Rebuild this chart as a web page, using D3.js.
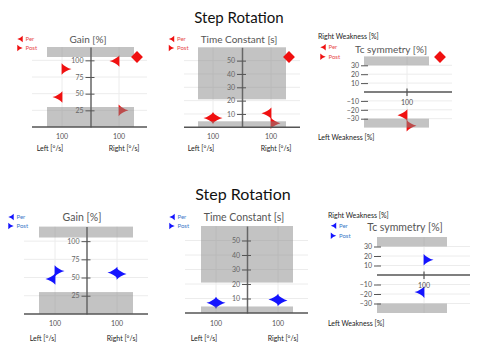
<!DOCTYPE html>
<html><head><meta charset="utf-8">
<script src="https://cdn.jsdelivr.net/npm/d3@7"></script>
<style>body{margin:0;background:#fff}svg{display:block;font-family:Lato,"Noto Sans",sans-serif}</style>
</head><body><svg id="c" width="479" height="356"></svg>
<script>
// ---------- data ----------
const categories = ["Left", "Right"];
const unitLabels = ["Left [°/s]", "Right [°/s]"];
const symCategory = ["100"];
const xTickLabel = "100";
const chartTitle = "Step Rotation";
const panelTitles = ["Gain [%]", "Time Constant [s]", "Tc symmetry [%]"];
const seriesNames = ["Per", "Post"];
const weaknessLabels = ["Right Weakness [%]", "Left Weakness [%]"];

const gainDomain = [0, 120], tcDomain = [0, 60], symDomain = [-40, 40];
const gainTicks = [25, 50, 75, 100];
const tcTicks = [10, 20, 30, 40, 50];
const symTicks = [-30, -20, -10, 10, 20, 30];
const gainNorm = [[0, 30], [105, 120]];
const tcNorm = [[0, 4.5], [21, 60]];
const symNorm = [[-40, -30], [30, 40]];

// set 1 (red)
const gainPer1 = [45, 99], gainPost1 = [87, 25];
const tcPer1 = [7, 10.5], tcPost1 = [7, 3];
const symPer1 = [-26], symPost1 = [-38];
const flags1 = [105, 52.7, 39.3];
// set 2 (blue)
const gainPer2 = [48, 57], gainPost2 = [59, 55];
const tcPer2 = [7, 9.3], tcPost2 = [7, 8.7];
const symPer2 = [-18], symPost2 = [16];
const flags2 = [];

// ---------- layout ----------
const svg = d3.select("#c");
const rows = [
  { color: "#f01010", lcolor: "#e84a4a", title: { x: 239, y: 23, s: 15 }, ts: 10,
    gain: { cx: [62, 119], yr: [127, 47], ax: 90.5, band: [47, 134], line: [32, 147], t: [88, 43], lg: [25.5, 39, 48], xl: 138.5, ul: 151, fx: 137 },
    tc:   { cx: [213, 271], yr: [127.3, 47.3], ax: 242, band: [198, 286], line: [184, 300], t: [239, 43], lg: [177, 39, 48], xl: 138.5, ul: 151, fx: 289 },
    sym:  { cx: 407, yr: [127.6, 56.4], band: [364, 429], line: [364, 452], t: [391, 52.5], lg: [328.5, 47.3, 56.7], wx: 318, wy: [38.5, 139.5], fx: 440 },
    data: { gain: [gainPer1, gainPost1], tc: [tcPer1, tcPost1], sym: [symPer1, symPost1], flags: flags1 } },
  { color: "#1414ff", lcolor: "#3a78c8", title: { x: 243, y: 200, s: 16 }, ts: 10.5,
    gain: { cx: [55, 117], yr: [313.9, 226.6], ax: 86.5, band: [39, 133], line: [24, 148], t: [82, 221], lg: [16.5, 217, 226], xl: 326, ul: 341 },
    tc:   { cx: [216, 278], yr: [313, 226], ax: 247, band: [201, 293], line: [185, 308], t: [244, 221], lg: [177.5, 217, 226], xl: 326, ul: 341 },
    sym:  { cx: 424, yr: [313, 237], band: [377, 447], line: [377, 470], t: [405, 231], lg: [339, 225.7, 235.7], wx: 328, wy: [217.5, 325.5] },
    data: { gain: [gainPer2, gainPost2], tc: [tcPer2, tcPost2], sym: [symPer2, symPost2], flags: flags2 } }
];

function perPath(s) {
  return `M${-9.5*s},0 Q${-3.5*s},${-1.5*s} ${0.4*s},${-5.8*s} L${0.4*s},${5.8*s} Q${-3.5*s},${1.5*s} ${-9.5*s},0Z`;
}
function postPath(s) {
  return `M${9.5*s},0 Q${3.5*s},${-1.5*s} ${-0.4*s},${-5.8*s} L${-0.4*s},${5.8*s} Q${3.5*s},${1.5*s} ${9.5*s},0Z`;
}
const shapes = [perPath, postPath];

function legend(g, lg, color, lcolor) {
  g.append("path").attr("d", perPath(0.55)).attr("fill", color)
    .attr("transform", `translate(${lg[0]-3},${lg[1]})`);
  g.append("path").attr("d", postPath(0.55)).attr("fill", color)
    .attr("transform", `translate(${lg[0]-8},${lg[2]})`);
  g.append("text").attr("x", lg[0]).attr("y", lg[1] + 2).attr("font-size", 6).attr("fill", lcolor).text(seriesNames[0]);
  g.append("text").attr("x", lg[0]).attr("y", lg[2] + 2).attr("font-size", 6).attr("fill", lcolor).text(seriesNames[1]);
}

function markers(g, x, y, series, color, cats) {
  series.forEach((vals, si) => {
    g.selectAll(null).data(vals).enter().append("path")
      .attr("d", shapes[si](1))
      .attr("fill", color)
      .attr("transform", (d, i) => `translate(${x(cats[i])},${y(d)})`);
  });
}

function flag(g, fx, fy, color) {
  g.append("path").attr("d", d3.symbol(d3.symbolSquare, 70)())
    .attr("fill", color)
    .attr("transform", `translate(${fx},${fy}) rotate(45)`);
}

function drawStd(cfg, domain, ticks, norms, series, title, row, flagVal) {
  const g = svg.append("g");
  const x = d3.scalePoint().domain(categories).range(cfg.cx);
  const y = d3.scaleLinear().domain(domain).range(cfg.yr);
  g.selectAll(null).data(ticks).enter().append("line")
    .attr("x1", cfg.line[0]).attr("x2", cfg.line[1])
    .attr("y1", d => y(d)).attr("y2", d => y(d))
    .attr("stroke", "#ececec").attr("stroke-width", 1);
  g.selectAll(null).data(categories).enter().append("line")
    .attr("x1", d => x(d)).attr("x2", d => x(d))
    .attr("y1", y(domain[1])).attr("y2", y(0))
    .attr("stroke", "#ececec").attr("stroke-width", 1);
  markers(g, x, y, series, row.color, categories);
  g.selectAll(null).data(norms).enter().append("rect")
    .attr("x", cfg.band[0]).attr("width", cfg.band[1] - cfg.band[0])
    .attr("y", d => y(d[1])).attr("height", d => y(d[0]) - y(d[1]))
    .attr("fill", "#888").attr("fill-opacity", 0.5);
  const ax = g.append("g").attr("transform", `translate(${cfg.ax},0)`)
    .call(d3.axisLeft(y).tickValues(ticks).tickSizeOuter(0).tickFormat(d3.format("d")));
  ax.select(".domain").attr("stroke", "#666").attr("stroke-width", 1.5);
  ax.selectAll(".tick line").attr("x1", 4).attr("x2", -5).attr("stroke", "#555").attr("stroke-width", 1);
  ax.selectAll(".tick text").attr("x", -7).attr("font-size", 7).attr("fill", "#666").attr("font-family", "Lato,sans-serif");
  g.append("line").attr("x1", cfg.line[0]).attr("x2", cfg.line[1])
    .attr("y1", y(0)).attr("y2", y(0)).attr("stroke", "#555").attr("stroke-width", 1.5);
  g.selectAll(null).data(categories).enter().append("text")
    .attr("x", d => x(d)).attr("y", cfg.xl).attr("text-anchor", "middle")
    .attr("font-size", 7).attr("fill", "#555").text(xTickLabel);
  g.selectAll(null).data(unitLabels).enter().append("text")
    .attr("x", (d, i) => x(categories[i]) + (i === 0 ? -12 : 5)).attr("y", cfg.ul)
    .attr("text-anchor", "middle").attr("font-size", 7).attr("fill", "#222").text(d => d);
  g.append("text").attr("x", cfg.t[0]).attr("y", cfg.t[1]).attr("text-anchor", "middle")
    .attr("font-size", row.ts).attr("fill", "#555").text(title);
  legend(g, cfg.lg, row.color, row.lcolor);
  if (flagVal !== undefined) flag(g, cfg.fx, y(flagVal), row.color);
}

function drawSym(cfg, series, row, flagVal) {
  const g = svg.append("g");
  const x = d3.scalePoint().domain(symCategory).range([cfg.cx, cfg.cx]);
  const y = d3.scaleLinear().domain(symDomain).range(cfg.yr);
  g.selectAll(null).data(symTicks).enter().append("line")
    .attr("x1", cfg.band[0]).attr("x2", cfg.line[1])
    .attr("y1", d => y(d)).attr("y2", d => y(d))
    .attr("stroke", "#ececec");
  g.append("line").attr("x1", x("100")).attr("x2", x("100"))
    .attr("y1", y(symDomain[1])).attr("y2", y(symDomain[0])).attr("stroke", "#ececec");
  markers(g, x, y, series, row.color, symCategory);
  g.selectAll(null).data(symNorm).enter().append("rect")
    .attr("x", cfg.band[0]).attr("width", cfg.band[1] - cfg.band[0])
    .attr("y", d => y(d[1])).attr("height", d => y(d[0]) - y(d[1]))
    .attr("fill", "#888").attr("fill-opacity", 0.5);
  const ax = g.append("g").attr("transform", `translate(${cfg.band[0]},0)`)
    .call(d3.axisLeft(y).tickValues(symTicks).tickFormat(d3.format("d")));
  ax.select(".domain").remove();
  ax.selectAll(".tick line").attr("x1", 4).attr("x2", -3).attr("stroke", "#555");
  ax.selectAll(".tick text").attr("x", -5).attr("font-size", 7).attr("fill", "#555").attr("font-family", "Lato,sans-serif");
  g.append("line").attr("x1", cfg.line[0]).attr("x2", cfg.line[1])
    .attr("y1", y(0)).attr("y2", y(0)).attr("stroke", "#555").attr("stroke-width", 1.5);
  g.append("line").attr("x1", x("100")).attr("x2", x("100"))
    .attr("y1", y(0) - 3.5).attr("y2", y(0) + 4).attr("stroke", "#555").attr("stroke-width", 1.2);
  g.append("text").attr("x", x("100")).attr("y", y(0) + 13).attr("text-anchor", "middle")
    .attr("font-size", 7).attr("fill", "#555").text(xTickLabel);
  g.append("text").attr("x", cfg.wx).attr("y", cfg.wy[0]).attr("font-size", 7).attr("fill", "#222").text(weaknessLabels[0]);
  g.append("text").attr("x", cfg.wx).attr("y", cfg.wy[1]).attr("font-size", 7).attr("fill", "#222").text(weaknessLabels[1]);
  g.append("text").attr("x", cfg.t[0]).attr("y", cfg.t[1]).attr("text-anchor", "middle")
    .attr("font-size", row.ts).attr("fill", "#555").text(panelTitles[2]);
  legend(g, cfg.lg, row.color, row.lcolor);
  if (flagVal !== undefined) flag(g, cfg.fx, y(flagVal), row.color);
}

rows.forEach(row => {
  svg.append("text").attr("x", row.title.x).attr("y", row.title.y).attr("text-anchor", "middle")
    .attr("font-size", row.title.s).attr("fill", "#111").text(chartTitle);
  drawStd(row.gain, gainDomain, gainTicks, gainNorm, row.data.gain, panelTitles[0], row, row.data.flags[0]);
  drawStd(row.tc, tcDomain, tcTicks, tcNorm, row.data.tc, panelTitles[1], row, row.data.flags[1]);
  drawSym(row.sym, row.data.sym, row, row.data.flags[2]);
});
</script></body></html>
